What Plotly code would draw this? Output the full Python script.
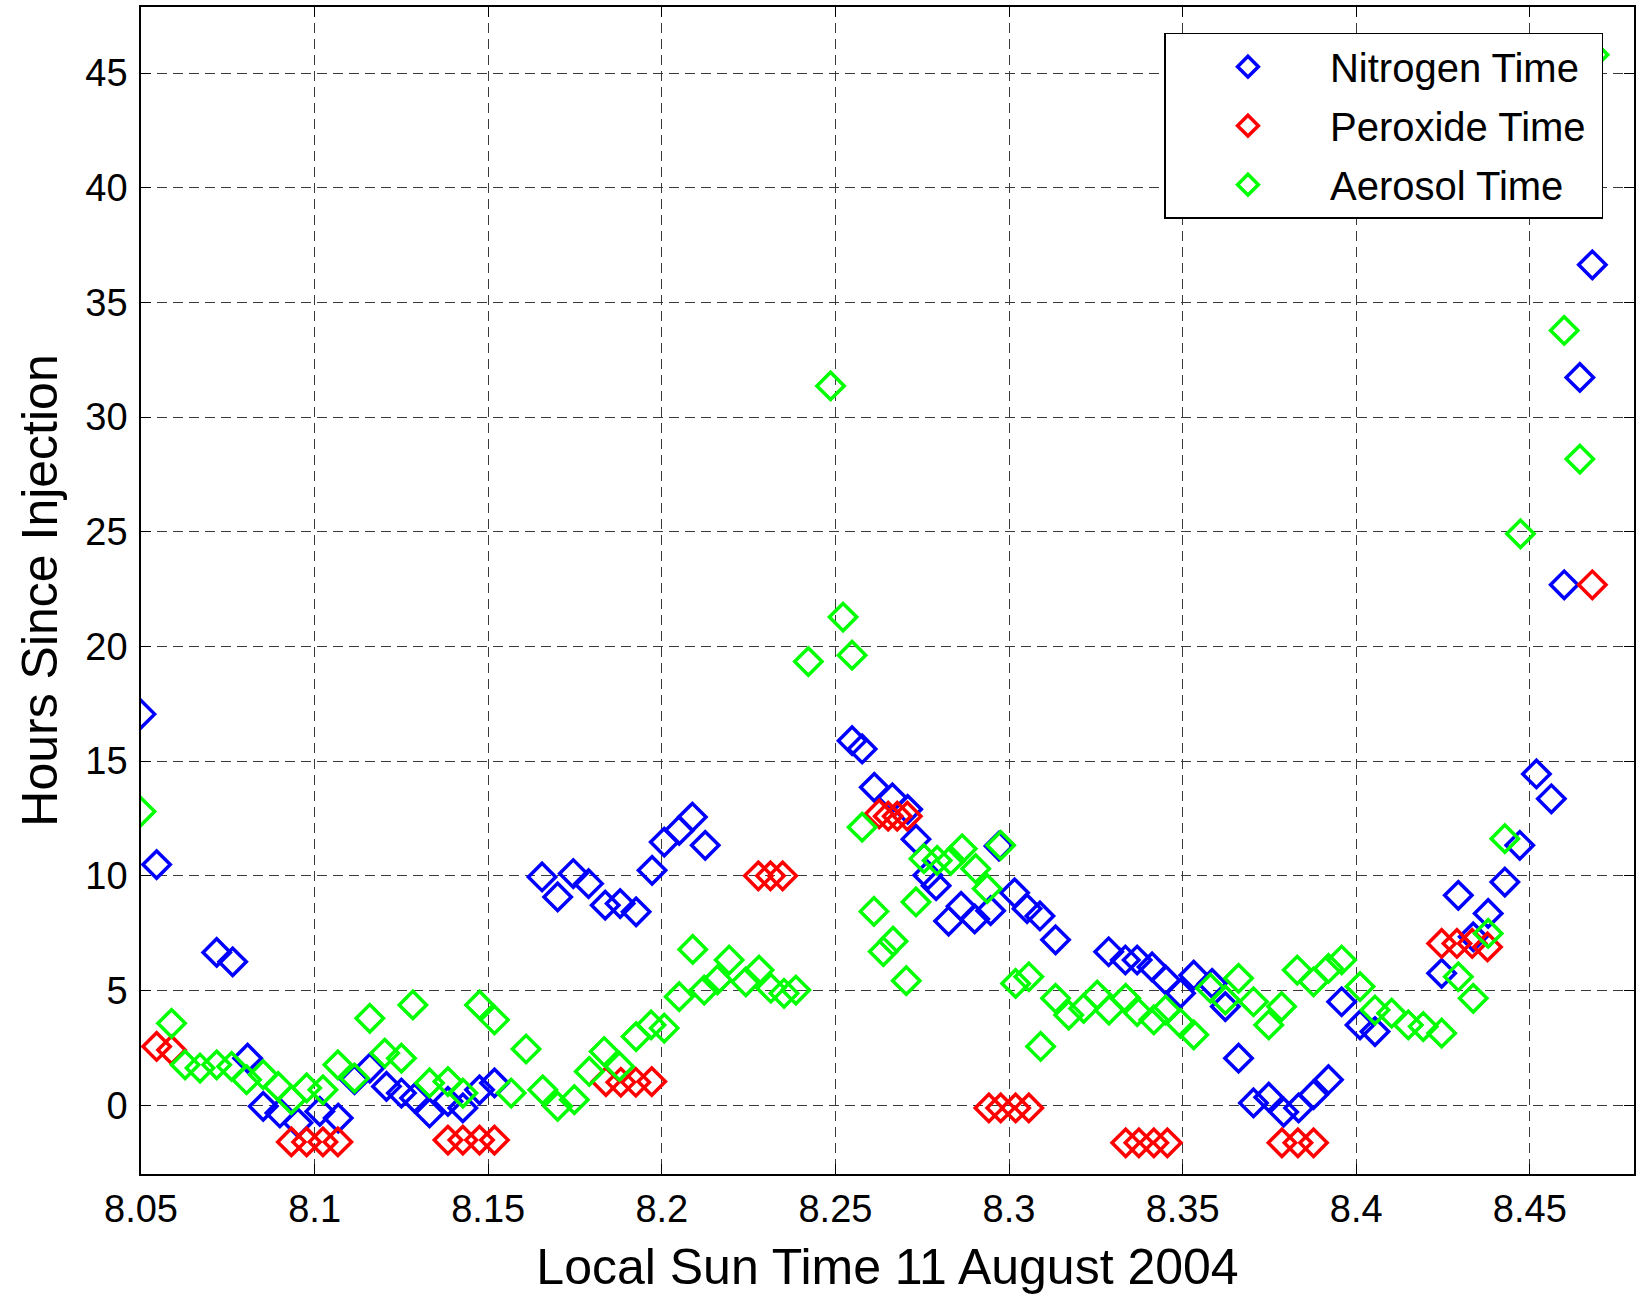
import plotly.graph_objects as go

# Local sun time (decimal hours) and hours since injection for each tracer
nitrogen_time = [
    8.0500, 8.0545, 8.0718, 8.0764, 8.0807, 8.0852, 8.0900, 8.0952, 8.1015, 8.1068,
    8.1115, 8.1159, 8.1207, 8.1250, 8.1288, 8.1331, 8.1384, 8.1427, 8.1475, 8.1518,
    8.1655, 8.1700, 8.1745, 8.1789, 8.1837, 8.1880, 8.1926, 8.1972, 8.2007, 8.2050,
    8.2088, 8.2125, 8.2548, 8.2577, 8.2612, 8.2664, 8.2708, 8.2732, 8.2766, 8.2790,
    8.2826, 8.2862, 8.2901, 8.2947, 8.2971, 8.3016, 8.3052, 8.3089, 8.3134, 8.3287,
    8.3335, 8.3369, 8.3412, 8.3451, 8.3494, 8.3532, 8.3585, 8.3623, 8.3661, 8.3704,
    8.3748, 8.3791, 8.3834, 8.3877, 8.3920, 8.3958, 8.4011, 8.4054, 8.4246, 8.4294,
    8.4337, 8.4380, 8.4428, 8.4471, 8.4519, 8.4562, 8.4599, 8.4644, 8.4680,
]
nitrogen_hours = [
    17.05, 10.49, 6.66, 6.25, 2.05, -0.05, -0.34, -0.77, -0.27, -0.56,
    1.11, 1.62, 0.82, 0.53, 0.31, -0.34, 0.17, -0.12, 0.67, 0.97,
    9.95, 9.08, 10.10, 9.66, 8.72, 8.79, 8.43, 10.24, 11.47, 11.98,
    12.56, 11.33, 15.89, 15.53, 13.86, 13.40, 12.90, 11.60, 10.03, 9.57,
    8.03, 8.67, 8.12, 8.48, 11.30, 9.26, 8.57, 8.25, 7.21, 6.69,
    6.33, 6.33, 6.03, 5.46, 4.88, 5.67, 5.31, 4.30, 2.05, 0.10,
    0.35, -0.30, -0.12, 0.46, 1.11, 4.51, 3.50, 3.21, 5.75, 9.15,
    7.34, 8.36, 9.73, 11.33, 14.44, 13.36, 22.69, 31.73, 36.64,
]

peroxide_time = [
    8.0545, 8.0588, 8.0933, 8.0977, 8.1024, 8.1067, 8.1384, 8.1427, 8.1475, 8.1518,
    8.1839, 8.1882, 8.1925, 8.1971, 8.2278, 8.2313, 8.2348, 8.2626, 8.2652, 8.2678,
    8.2707, 8.2942, 8.2976, 8.3019, 8.3057, 8.3336, 8.3374, 8.3417, 8.3456, 8.3786,
    8.3832, 8.3877, 8.4246, 8.4290, 8.4334, 8.4378, 8.4680,
]
peroxide_hours = [
    2.56, 2.41, -1.60, -1.60, -1.60, -1.60, -1.52, -1.52, -1.52, -1.52,
    1.03, 1.00, 1.00, 1.03, 10.00, 10.00, 10.00, 12.70, 12.60, 12.60,
    12.60, -0.12, -0.12, -0.12, -0.12, -1.64, -1.64, -1.64, -1.64, -1.64,
    -1.64, -1.64, 7.05, 7.05, 7.05, 6.90, 22.69,
]

aerosol_time = [
    8.0500, 8.0588, 8.0627, 8.0670, 8.0718, 8.0761, 8.0804, 8.0852, 8.0895, 8.0933,
    8.0977, 8.1024, 8.1067, 8.1115, 8.1159, 8.1202, 8.1250, 8.1283, 8.1331, 8.1384,
    8.1427, 8.1475, 8.1518, 8.1566, 8.1609, 8.1657, 8.1700, 8.1748, 8.1791, 8.1834,
    8.1878, 8.1926, 8.1969, 8.2007, 8.2050, 8.2089, 8.2122, 8.2160, 8.2194, 8.2242,
    8.2280, 8.2314, 8.2352, 8.2386, 8.2422, 8.2486, 8.2522, 8.2548, 8.2577, 8.2611,
    8.2638, 8.2666, 8.2704, 8.2732, 8.2755, 8.2793, 8.2832, 8.2865, 8.2904, 8.2937,
    8.2976, 8.3019, 8.3057, 8.3091, 8.3134, 8.3172, 8.3215, 8.3254, 8.3288, 8.3336,
    8.3369, 8.3417, 8.3451, 8.3494, 8.3532, 8.3580, 8.3623, 8.3661, 8.3704, 8.3748,
    8.3785, 8.3830, 8.3877, 8.3920, 8.3958, 8.4011, 8.4054, 8.4102, 8.4150, 8.4193,
    8.4246, 8.4294, 8.4337, 8.4380, 8.4428, 8.4473, 8.4599, 8.4644, 8.4685,
]
aerosol_hours = [
    12.80, 3.57, 1.76, 1.62, 1.76, 1.69, 1.11, 1.33, 0.82, 0.24,
    0.75, 0.67, 1.76, 1.18, 3.79, 2.27, 2.05, 4.37, 0.97, 1.03,
    0.53, 4.37, 3.72, 0.53, 2.45, 0.67, -0.05, 0.24, 1.47, 2.34,
    1.69, 2.99, 3.50, 3.36, 4.73, 6.79, 5.02, 5.46, 6.33, 5.38,
    5.89, 5.10, 4.88, 5.02, 19.34, 31.36, 21.28, 19.62, 12.12, 8.45,
    6.70, 7.15, 5.43, 8.86, 10.75, 10.67, 10.67, 11.18, 10.31, 9.44,
    11.33, 5.31, 5.60, 2.56, 4.66, 3.93, 4.22, 4.80, 4.15, 4.66,
    4.08, 3.72, 4.15, 3.57, 3.07, 5.10, 4.59, 5.53, 4.51, 3.50,
    4.30, 5.89, 5.38, 5.96, 6.33, 5.17, 4.15, 4.01, 3.50, 3.43,
    3.14, 5.60, 4.66, 7.49, 11.62, 24.91, 33.78, 28.17, 45.80,
]

x_tick_values = [8.05, 8.10, 8.15, 8.20, 8.25, 8.30, 8.35, 8.40, 8.45]
x_tick_labels = ["8.05", "8.1", "8.15", "8.2", "8.25", "8.3", "8.35", "8.4", "8.45"]
y_tick_values = [0, 5, 10, 15, 20, 25, 30, 35, 40, 45]
y_tick_labels = ["0", "5", "10", "15", "20", "25", "30", "35", "40", "45"]

FONT = "Liberation Sans, Arial, Helvetica, sans-serif"
PAD = "\u00a0"  # a little breathing room on the right of the legend box

series = [
    ("Nitrogen Time", nitrogen_time, nitrogen_hours, "#0000ff"),
    ("Peroxide Time", peroxide_time, peroxide_hours, "#ff0000"),
    ("Aerosol Time", aerosol_time, aerosol_hours, "#00ff00"),
]

fig = go.Figure()
for name, xs, ys, color in series:
    fig.add_trace(go.Scatter(
        x=xs, y=ys, mode="markers", name=name + PAD, legendgroup=name,
        marker=dict(symbol="diamond-open", size=21, color=color,
                    line=dict(color=color, width=3.5)),
        cliponaxis=True,
    ))

axis_common = dict(
    showgrid=True, gridcolor="#3a3a3a", gridwidth=1, griddash="10px,6px",
    showline=True, linecolor="black", linewidth=1.5, mirror="ticks",
    ticks="inside", ticklen=10, tickwidth=1.2, tickcolor="black",
    zeroline=False, tickfont=dict(family=FONT, size=38, color="black"),
)

fig.update_layout(
    width=1637, height=1298,
    margin=dict(l=141, r=1, t=7, b=124),
    paper_bgcolor="white", plot_bgcolor="white",
    font=dict(family=FONT, color="black"),
    xaxis=dict(range=[8.05, 8.48], tickmode="array", tickvals=x_tick_values,
               ticktext=x_tick_labels, ticklabelstandoff=1,
               title=dict(text="Local Sun Time 11 August 2004",
                          font=dict(family=FONT, size=50, color="black"),
                          standoff=20),
               **axis_common),
    yaxis=dict(range=[-3, 47.88], tickmode="array", tickvals=y_tick_values,
               ticktext=y_tick_labels, ticklabelstandoff=4,
               title=dict(text="Hours Since Injection",
                          font=dict(family=FONT, size=50, color="black"),
                          standoff=12),
               **axis_common),
    legend=dict(x=0.6855, y=0.978, xanchor="left", yanchor="top",
                bgcolor="white", bordercolor="black", borderwidth=1.5,
                font=dict(family=FONT, size=40, color="black"),
                itemwidth=154, tracegroupgap=4),
    showlegend=True,
)

fig.write_html("out.html")
